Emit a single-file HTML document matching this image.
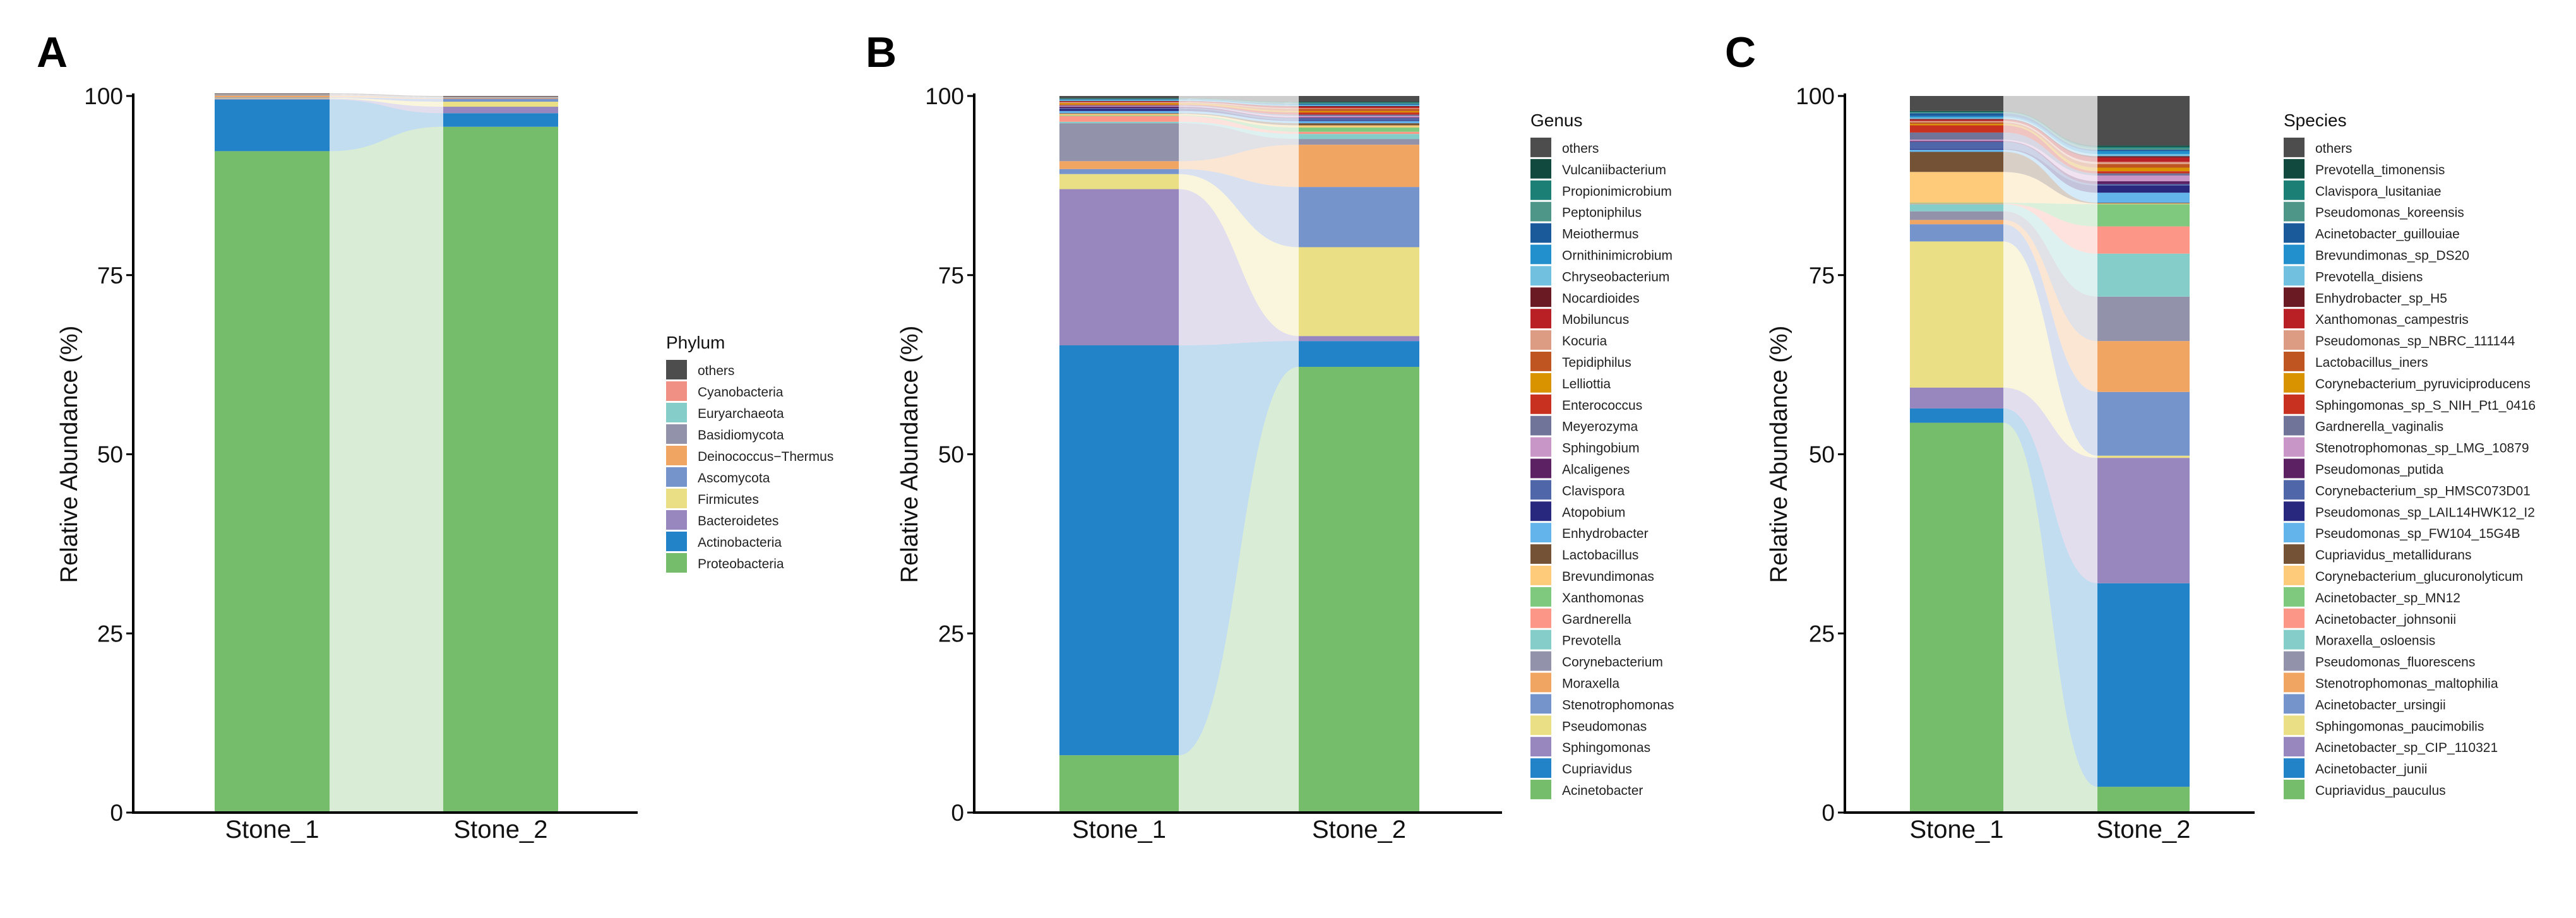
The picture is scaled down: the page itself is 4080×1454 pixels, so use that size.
<!DOCTYPE html>
<html><head><meta charset="utf-8"><style>
body{margin:0;background:#fff;}
svg{display:block;font-family:"Liberation Sans",Arial,sans-serif;}
</style></head><body>
<svg id="chart" width="4080" height="1454" viewBox="0 0 4080 1454" xmlns="http://www.w3.org/2000/svg"></svg>
<script>
// ---- Panel A data (Phylum), legend order top -> bottom
const phylumNames = ["others","Cyanobacteria","Euryarchaeota","Basidiomycota","Deinococcus\u2212Thermus","Ascomycota","Firmicutes","Bacteroidetes","Actinobacteria","Proteobacteria"];
const phylumStone1 = [0.1,0.05,0.05,0.1,0.25,0.1,0.1,0.1,7.2,92.3];
const phylumStone2 = [0.1,0.05,0.05,0.1,0.1,0.4,0.7,0.9,1.9,95.7];
// ---- Panel B data (Genus)
const genusNames = ["others","Vulcaniibacterium","Propionimicrobium","Peptoniphilus","Meiothermus","Ornithinimicrobium","Chryseobacterium","Nocardioides","Mobiluncus","Kocuria","Tepidiphilus","Lelliottia","Enterococcus","Meyerozyma","Sphingobium","Alcaligenes","Clavispora","Atopobium","Enhydrobacter","Lactobacillus","Brevundimonas","Xanthomonas","Gardnerella","Prevotella","Corynebacterium","Moraxella","Stenotrophomonas","Pseudomonas","Sphingomonas","Cupriavidus","Acinetobacter"];
const genusStone1 = [0.3,0.05,0.05,0.05,0.05,0.1,0.1,0.05,0.1,0.1,0.05,0.2,0.1,0.1,0.1,0.2,0.1,0.3,0.3,0.1,0.2,0.1,0.8,0.2,5.3,1.1,0.7,2.1,21.8,57.2,8.0];
const genusStone2 = [0.8,0.1,0.1,0.1,0.1,0.1,0.1,0.1,0.2,0.1,0.3,0.2,0.3,0.2,0.2,0.1,0.3,0.1,0.3,0.3,0.3,0.6,0.3,0.7,0.8,5.9,8.4,12.4,0.7,3.6,62.2];
// ---- Panel C data (Species)
const speciesNames = ["others","Prevotella_timonensis","Clavispora_lusitaniae","Pseudomonas_koreensis","Acinetobacter_guillouiae","Brevundimonas_sp_DS20","Prevotella_disiens","Enhydrobacter_sp_H5","Xanthomonas_campestris","Pseudomonas_sp_NBRC_111144","Lactobacillus_iners","Corynebacterium_pyruviciproducens","Sphingomonas_sp_S_NIH_Pt1_0416","Gardnerella_vaginalis","Stenotrophomonas_sp_LMG_10879","Pseudomonas_putida","Corynebacterium_sp_HMSC073D01","Pseudomonas_sp_LAIL14HWK12_I2","Pseudomonas_sp_FW104_15G4B","Cupriavidus_metallidurans","Corynebacterium_glucuronolyticum","Acinetobacter_sp_MN12","Acinetobacter_johnsonii","Moraxella_osloensis","Pseudomonas_fluorescens","Stenotrophomonas_maltophilia","Acinetobacter_ursingii","Sphingomonas_paucimobilis","Acinetobacter_sp_CIP_110321","Acinetobacter_junii","Cupriavidus_pauculus"];
const speciesStone1 = [2.1,0.1,0.1,0.1,0.4,0.2,0.2,0.1,0.2,0.2,0.2,0.2,1.0,1.0,0.2,0.1,1.0,0.1,0.3,2.8,4.3,0.1,0.1,1.0,1.2,0.6,2.4,20.4,2.9,2.0,54.4];
const speciesStone2 = [6.9,0.2,0.2,0.2,0.2,0.4,0.3,0.2,0.6,0.3,0.5,0.5,0.3,0.3,0.8,0.4,0.2,1.0,1.4,0.1,0.1,3.1,3.8,6.0,6.2,7.1,8.9,0.3,17.5,28.4,3.6];
const sampleLabels = ["Stone_1","Stone_2"];
const yTicks = [0,25,50,75,100];

const palA = ["#4d4d4d","#f08f84","#84cdc9","#9293ab","#f1a563","#7694cc","#eadf85","#9787be","#2383c8","#75bc6b"];
const palB = ["#4d4d4d","#11493f","#1b7f75","#4d9688","#1a5a9a","#2290cc","#72c0e0","#6a1a22","#b82025","#dc9c84","#bf5520","#d99200","#c8301f","#717499","#c996c8","#5c2163","#4f66a8","#28287f","#63b4ea","#735235","#fdcb7a","#7fc97f","#fc9787","#84cdc9","#9293ab","#f1a563","#7694cc","#eadf85","#9787be","#2383c8","#75bc6b"];

const NS="http://www.w3.org/2000/svg";
const svg=document.getElementById('chart');
function mk(tag,attrs,parent){const e=document.createElementNS(NS,tag);for(const k in attrs)e.setAttribute(k,attrs[k]);(parent||svg).appendChild(e);return e;}

function drawPanel(p){
  const g=mk('g',{});
  
  
  const y0=1287,y100=152;
  const yS=v=>y0-(v/100)*(y0-y100);
  const lt=mk('text',{x:p.letterX,y:106,'font-size':68,'font-weight':'bold','font-family':'"Liberation Sans",sans-serif'},g);
  lt.textContent=p.letter;
  
  
  const n=p.names.length;
  let c1=0,c2=0;const seg=[];
  for(let i=n-1;i>=0;i--){seg[i]={a0:c1,a1:c1+p.s1[i],b0:c2,b1:c2+p.s2[i]};c1+=p.s1[i];c2+=p.s2[i];}
  const [b1l,b1r]=p.bar1,[b2l,b2r]=p.bar2;const mx=(b1r+b2l)/2;
  for(let i=n-1;i>=0;i--){
    const s=seg[i];
    const ya0=yS(s.a0),ya1=yS(s.a1),yb0=yS(s.b0),yb1=yS(s.b1);
    const f=mk('path',{d:`M${b1r},${ya1} C${mx},${ya1} ${mx},${yb1} ${b2l},${yb1} L${b2l},${yb0} C${mx},${yb0} ${mx},${ya0} ${b1r},${ya0} Z`,fill:p.pal[i],'fill-opacity':0.28},g);
    
    
    const r1=mk('rect',{x:b1l,y:ya1,width:b1r-b1l,height:Math.max(0,ya0-ya1),fill:p.pal[i]},g);
    
    
    const r2=mk('rect',{x:b2l,y:yb1,width:b2r-b2l,height:Math.max(0,yb0-yb1),fill:p.pal[i]},g);
    
    
  }
  const ya=mk('line',{x1:p.axisX,y1:y100-4,x2:p.axisX,y2:y0+2,stroke:'#000','stroke-width':4},g);
  
  const xa=mk('line',{x1:p.axisX-2,y1:y0,x2:p.axisEnd,y2:y0,stroke:'#000','stroke-width':4},g);
  
  yTicks.forEach(t=>{
    mk('line',{x1:p.axisX-11,y1:yS(t),x2:p.axisX,y2:yS(t),stroke:'#000','stroke-width':3},g);
    const tx=mk('text',{x:p.axisX-16,y:yS(t)+13,'font-size':37,'text-anchor':'end',fill:'#111'},g);
    tx.textContent=t;
    
  });
  [p.bar1,p.bar2].forEach((b,k)=>{
    const tx=mk('text',{x:(b[0]+b[1])/2,y:1327,'font-size':40,'text-anchor':'middle',fill:'#111'},g);
    tx.textContent=sampleLabels[k];
    
  });
  const yt=mk('text',{x:0,y:0,'font-size':38,'text-anchor':'middle',fill:'#111',transform:`translate(${p.titleX},${(y0+y100)/2}) rotate(-90)`},g);
  yt.textContent='Relative Abundance (%)';
  
  const lg=mk('g',{},g);
  
  const ttl=mk('text',{x:p.legX,y:p.legTop-18,'font-size':28,fill:'#111'},lg);
  ttl.textContent=p.legTitle;
  
  p.names.forEach((nm,i)=>{
    const yy=p.legTop+i*p.legStep;
    const sw=mk('rect',{x:p.legX,y:yy,width:33,height:p.legStep-3,fill:p.pal[i]},lg);
    
    const tx=mk('text',{x:p.legX+50,y:yy+p.legStep/2+7,'font-size':21,fill:'#222'},lg);
    tx.textContent=nm;
    
  });
}
drawPanel({letter:'A',letterX:58,names:phylumNames,s1:phylumStone1,s2:phylumStone2,pal:palA,axisX:211,axisEnd:1010,bar1:[340,522],bar2:[702,884],titleX:122,legX:1055,legTop:570,legStep:34,legTitle:'Phylum'});
drawPanel({letter:'B',letterX:1371,names:genusNames,s1:genusStone1,s2:genusStone2,pal:palB,axisX:1543,axisEnd:2379,bar1:[1678,1867],bar2:[2057,2248],titleX:1453,legX:2424,legTop:218,legStep:33.9,legTitle:'Genus'});
drawPanel({letter:'C',letterX:2732,names:speciesNames,s1:speciesStone1,s2:speciesStone2,pal:palB,axisX:2922,axisEnd:3571,bar1:[3025,3173],bar2:[3322,3468],titleX:2830,legX:3617,legTop:218,legStep:33.9,legTitle:'Species'});
</script>
</body></html>
